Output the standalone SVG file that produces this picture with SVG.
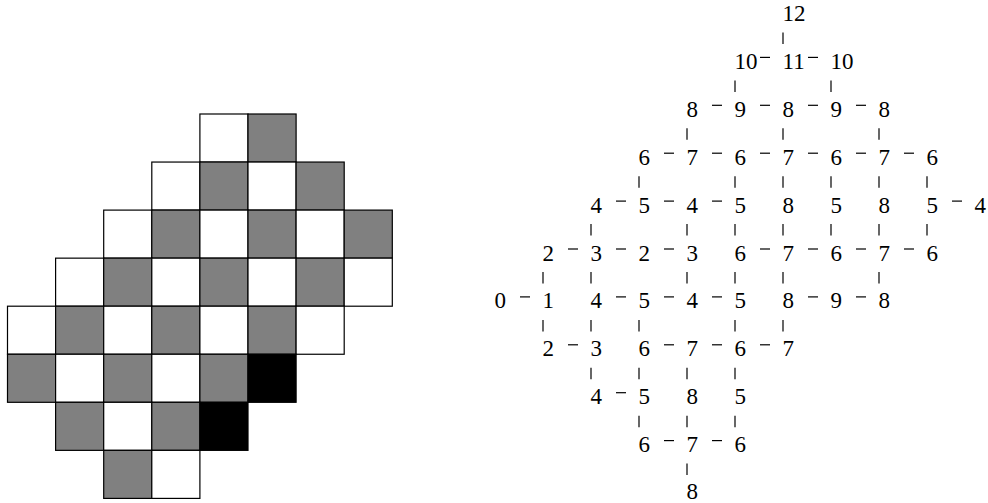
<svg xmlns="http://www.w3.org/2000/svg" width="988" height="503" viewBox="0 0 988 503">
<style>
.w{fill:#fff;stroke:#000;stroke-width:1.2}
.g{fill:#808080;stroke:#000;stroke-width:1.2}
.b{fill:#000;stroke:#000;stroke-width:1.2}
.c line{stroke:#000;stroke-width:1.2}
</style>
<g id="board">
<rect class="w" x="199.9" y="114" width="48.1" height="48.05"/>
<rect class="g" x="248" y="114" width="48.1" height="48.05"/>
<rect class="w" x="151.8" y="162.05" width="48.1" height="48.05"/>
<rect class="g" x="199.9" y="162.05" width="48.1" height="48.05"/>
<rect class="w" x="248" y="162.05" width="48.1" height="48.05"/>
<rect class="g" x="296.1" y="162.05" width="48.1" height="48.05"/>
<rect class="w" x="103.7" y="210.1" width="48.1" height="48.05"/>
<rect class="g" x="151.8" y="210.1" width="48.1" height="48.05"/>
<rect class="w" x="199.9" y="210.1" width="48.1" height="48.05"/>
<rect class="g" x="248" y="210.1" width="48.1" height="48.05"/>
<rect class="w" x="296.1" y="210.1" width="48.1" height="48.05"/>
<rect class="g" x="344.2" y="210.1" width="48.1" height="48.05"/>
<rect class="w" x="55.6" y="258.15" width="48.1" height="48.05"/>
<rect class="g" x="103.7" y="258.15" width="48.1" height="48.05"/>
<rect class="w" x="151.8" y="258.15" width="48.1" height="48.05"/>
<rect class="g" x="199.9" y="258.15" width="48.1" height="48.05"/>
<rect class="w" x="248" y="258.15" width="48.1" height="48.05"/>
<rect class="g" x="296.1" y="258.15" width="48.1" height="48.05"/>
<rect class="w" x="344.2" y="258.15" width="48.1" height="48.05"/>
<rect class="w" x="7.5" y="306.2" width="48.1" height="48.05"/>
<rect class="g" x="55.6" y="306.2" width="48.1" height="48.05"/>
<rect class="w" x="103.7" y="306.2" width="48.1" height="48.05"/>
<rect class="g" x="151.8" y="306.2" width="48.1" height="48.05"/>
<rect class="w" x="199.9" y="306.2" width="48.1" height="48.05"/>
<rect class="g" x="248" y="306.2" width="48.1" height="48.05"/>
<rect class="w" x="296.1" y="306.2" width="48.1" height="48.05"/>
<rect class="g" x="7.5" y="354.25" width="48.1" height="48.05"/>
<rect class="w" x="55.6" y="354.25" width="48.1" height="48.05"/>
<rect class="g" x="103.7" y="354.25" width="48.1" height="48.05"/>
<rect class="w" x="151.8" y="354.25" width="48.1" height="48.05"/>
<rect class="g" x="199.9" y="354.25" width="48.1" height="48.05"/>
<rect class="b" x="248" y="354.25" width="48.1" height="48.05"/>
<rect class="g" x="55.6" y="402.3" width="48.1" height="48.05"/>
<rect class="w" x="103.7" y="402.3" width="48.1" height="48.05"/>
<rect class="g" x="151.8" y="402.3" width="48.1" height="48.05"/>
<rect class="b" x="199.9" y="402.3" width="48.1" height="48.05"/>
<rect class="g" x="103.7" y="450.35" width="48.1" height="48.05"/>
<rect class="w" x="151.8" y="450.35" width="48.1" height="48.05"/>
</g>
<g id="connectors" class="c">
<line x1="760" y1="57.4" x2="770" y2="57.4"/><line x1="808" y1="57.4" x2="818" y2="57.4"/>
<line x1="712" y1="105.3" x2="722" y2="105.3"/><line x1="760" y1="105.3" x2="770" y2="105.3"/><line x1="808" y1="105.3" x2="818" y2="105.3"/><line x1="856" y1="105.3" x2="866" y2="105.3"/>
<line x1="664" y1="153.2" x2="674" y2="153.2"/><line x1="712" y1="153.2" x2="722" y2="153.2"/><line x1="760" y1="153.2" x2="770" y2="153.2"/><line x1="808" y1="153.2" x2="818" y2="153.2"/><line x1="856" y1="153.2" x2="866" y2="153.2"/><line x1="904" y1="153.2" x2="914" y2="153.2"/>
<line x1="616" y1="201.1" x2="626" y2="201.1"/><line x1="664" y1="201.1" x2="674" y2="201.1"/><line x1="712" y1="201.1" x2="722" y2="201.1"/><line x1="952" y1="201.1" x2="962" y2="201.1"/>
<line x1="568" y1="249" x2="578" y2="249"/><line x1="616" y1="249" x2="626" y2="249"/><line x1="664" y1="249" x2="674" y2="249"/><line x1="760" y1="249" x2="770" y2="249"/><line x1="808" y1="249" x2="818" y2="249"/><line x1="856" y1="249" x2="866" y2="249"/><line x1="904" y1="249" x2="914" y2="249"/>
<line x1="520" y1="296.9" x2="530" y2="296.9"/><line x1="616" y1="296.9" x2="626" y2="296.9"/><line x1="664" y1="296.9" x2="674" y2="296.9"/><line x1="712" y1="296.9" x2="722" y2="296.9"/><line x1="808" y1="296.9" x2="818" y2="296.9"/><line x1="856" y1="296.9" x2="866" y2="296.9"/>
<line x1="568" y1="344.8" x2="578" y2="344.8"/><line x1="664" y1="344.8" x2="674" y2="344.8"/><line x1="712" y1="344.8" x2="722" y2="344.8"/><line x1="760" y1="344.8" x2="770" y2="344.8"/>
<line x1="616" y1="392.7" x2="626" y2="392.7"/>
<line x1="664" y1="440.6" x2="674" y2="440.6"/><line x1="712" y1="440.6" x2="722" y2="440.6"/>
<line x1="783" y1="32.5" x2="783" y2="44"/>
<line x1="735" y1="80.4" x2="735" y2="91.9"/><line x1="831" y1="80.4" x2="831" y2="91.9"/>
<line x1="687" y1="128.3" x2="687" y2="139.8"/><line x1="783" y1="128.3" x2="783" y2="139.8"/><line x1="879" y1="128.3" x2="879" y2="139.8"/>
<line x1="639" y1="176.2" x2="639" y2="187.7"/><line x1="735" y1="176.2" x2="735" y2="187.7"/><line x1="783" y1="176.2" x2="783" y2="187.7"/><line x1="831" y1="176.2" x2="831" y2="187.7"/><line x1="879" y1="176.2" x2="879" y2="187.7"/><line x1="927" y1="176.2" x2="927" y2="187.7"/>
<line x1="591" y1="224.1" x2="591" y2="235.6"/><line x1="687" y1="224.1" x2="687" y2="235.6"/><line x1="735" y1="224.1" x2="735" y2="235.6"/><line x1="783" y1="224.1" x2="783" y2="235.6"/><line x1="831" y1="224.1" x2="831" y2="235.6"/><line x1="879" y1="224.1" x2="879" y2="235.6"/><line x1="927" y1="224.1" x2="927" y2="235.6"/>
<line x1="543" y1="272" x2="543" y2="283.5"/><line x1="591" y1="272" x2="591" y2="283.5"/><line x1="687" y1="272" x2="687" y2="283.5"/><line x1="735" y1="272" x2="735" y2="283.5"/><line x1="783" y1="272" x2="783" y2="283.5"/><line x1="879" y1="272" x2="879" y2="283.5"/>
<line x1="543" y1="319.9" x2="543" y2="331.4"/><line x1="591" y1="319.9" x2="591" y2="331.4"/><line x1="639" y1="319.9" x2="639" y2="331.4"/><line x1="735" y1="319.9" x2="735" y2="331.4"/><line x1="783" y1="319.9" x2="783" y2="331.4"/>
<line x1="591" y1="367.8" x2="591" y2="379.3"/><line x1="639" y1="367.8" x2="639" y2="379.3"/><line x1="687" y1="367.8" x2="687" y2="379.3"/><line x1="735" y1="367.8" x2="735" y2="379.3"/>
<line x1="639" y1="415.7" x2="639" y2="427.2"/><line x1="687" y1="415.7" x2="687" y2="427.2"/><line x1="735" y1="415.7" x2="735" y2="427.2"/>
<line x1="687" y1="463.6" x2="687" y2="475.1"/>
</g>
<g id="n0-6"><text font-family="'Liberation Serif', 'Times New Roman', serif" font-size="23" x="782.5" y="21">12</text></g>
<g id="n1-5"><text font-family="'Liberation Serif', 'Times New Roman', serif" font-size="23" x="734.5" y="68.9">10</text></g>
<g id="n1-6"><text font-family="'Liberation Serif', 'Times New Roman', serif" font-size="23" x="782.5" y="68.9">11</text></g>
<g id="n1-7"><text font-family="'Liberation Serif', 'Times New Roman', serif" font-size="23" x="830.5" y="68.9">10</text></g>
<g id="n2-4"><text font-family="'Liberation Serif', 'Times New Roman', serif" font-size="23" x="686.5" y="116.8">8</text></g>
<g id="n2-5"><text font-family="'Liberation Serif', 'Times New Roman', serif" font-size="23" x="734.5" y="116.8">9</text></g>
<g id="n2-6"><text font-family="'Liberation Serif', 'Times New Roman', serif" font-size="23" x="782.5" y="116.8">8</text></g>
<g id="n2-7"><text font-family="'Liberation Serif', 'Times New Roman', serif" font-size="23" x="830.5" y="116.8">9</text></g>
<g id="n2-8"><text font-family="'Liberation Serif', 'Times New Roman', serif" font-size="23" x="878.5" y="116.8">8</text></g>
<g id="n3-3"><text font-family="'Liberation Serif', 'Times New Roman', serif" font-size="23" x="638.5" y="164.7">6</text></g>
<g id="n3-4"><text font-family="'Liberation Serif', 'Times New Roman', serif" font-size="23" x="686.5" y="164.7">7</text></g>
<g id="n3-5"><text font-family="'Liberation Serif', 'Times New Roman', serif" font-size="23" x="734.5" y="164.7">6</text></g>
<g id="n3-6"><text font-family="'Liberation Serif', 'Times New Roman', serif" font-size="23" x="782.5" y="164.7">7</text></g>
<g id="n3-7"><text font-family="'Liberation Serif', 'Times New Roman', serif" font-size="23" x="830.5" y="164.7">6</text></g>
<g id="n3-8"><text font-family="'Liberation Serif', 'Times New Roman', serif" font-size="23" x="878.5" y="164.7">7</text></g>
<g id="n3-9"><text font-family="'Liberation Serif', 'Times New Roman', serif" font-size="23" x="926.5" y="164.7">6</text></g>
<g id="n4-2"><text font-family="'Liberation Serif', 'Times New Roman', serif" font-size="23" x="590.5" y="212.6">4</text></g>
<g id="n4-3"><text font-family="'Liberation Serif', 'Times New Roman', serif" font-size="23" x="638.5" y="212.6">5</text></g>
<g id="n4-4"><text font-family="'Liberation Serif', 'Times New Roman', serif" font-size="23" x="686.5" y="212.6">4</text></g>
<g id="n4-5"><text font-family="'Liberation Serif', 'Times New Roman', serif" font-size="23" x="734.5" y="212.6">5</text></g>
<g id="n4-6"><text font-family="'Liberation Serif', 'Times New Roman', serif" font-size="23" x="782.5" y="212.6">8</text></g>
<g id="n4-7"><text font-family="'Liberation Serif', 'Times New Roman', serif" font-size="23" x="830.5" y="212.6">5</text></g>
<g id="n4-8"><text font-family="'Liberation Serif', 'Times New Roman', serif" font-size="23" x="878.5" y="212.6">8</text></g>
<g id="n4-9"><text font-family="'Liberation Serif', 'Times New Roman', serif" font-size="23" x="926.5" y="212.6">5</text></g>
<g id="n4-10"><text font-family="'Liberation Serif', 'Times New Roman', serif" font-size="23" x="974.5" y="212.6">4</text></g>
<g id="n5-1"><text font-family="'Liberation Serif', 'Times New Roman', serif" font-size="23" x="542.5" y="260.5">2</text></g>
<g id="n5-2"><text font-family="'Liberation Serif', 'Times New Roman', serif" font-size="23" x="590.5" y="260.5">3</text></g>
<g id="n5-3"><text font-family="'Liberation Serif', 'Times New Roman', serif" font-size="23" x="638.5" y="260.5">2</text></g>
<g id="n5-4"><text font-family="'Liberation Serif', 'Times New Roman', serif" font-size="23" x="686.5" y="260.5">3</text></g>
<g id="n5-5"><text font-family="'Liberation Serif', 'Times New Roman', serif" font-size="23" x="734.5" y="260.5">6</text></g>
<g id="n5-6"><text font-family="'Liberation Serif', 'Times New Roman', serif" font-size="23" x="782.5" y="260.5">7</text></g>
<g id="n5-7"><text font-family="'Liberation Serif', 'Times New Roman', serif" font-size="23" x="830.5" y="260.5">6</text></g>
<g id="n5-8"><text font-family="'Liberation Serif', 'Times New Roman', serif" font-size="23" x="878.5" y="260.5">7</text></g>
<g id="n5-9"><text font-family="'Liberation Serif', 'Times New Roman', serif" font-size="23" x="926.5" y="260.5">6</text></g>
<g id="n6-0"><text font-family="'Liberation Serif', 'Times New Roman', serif" font-size="23" x="494.5" y="308.4">0</text></g>
<g id="n6-1"><text font-family="'Liberation Serif', 'Times New Roman', serif" font-size="23" x="542.5" y="308.4">1</text></g>
<g id="n6-2"><text font-family="'Liberation Serif', 'Times New Roman', serif" font-size="23" x="590.5" y="308.4">4</text></g>
<g id="n6-3"><text font-family="'Liberation Serif', 'Times New Roman', serif" font-size="23" x="638.5" y="308.4">5</text></g>
<g id="n6-4"><text font-family="'Liberation Serif', 'Times New Roman', serif" font-size="23" x="686.5" y="308.4">4</text></g>
<g id="n6-5"><text font-family="'Liberation Serif', 'Times New Roman', serif" font-size="23" x="734.5" y="308.4">5</text></g>
<g id="n6-6"><text font-family="'Liberation Serif', 'Times New Roman', serif" font-size="23" x="782.5" y="308.4">8</text></g>
<g id="n6-7"><text font-family="'Liberation Serif', 'Times New Roman', serif" font-size="23" x="830.5" y="308.4">9</text></g>
<g id="n6-8"><text font-family="'Liberation Serif', 'Times New Roman', serif" font-size="23" x="878.5" y="308.4">8</text></g>
<g id="n7-1"><text font-family="'Liberation Serif', 'Times New Roman', serif" font-size="23" x="542.5" y="356.3">2</text></g>
<g id="n7-2"><text font-family="'Liberation Serif', 'Times New Roman', serif" font-size="23" x="590.5" y="356.3">3</text></g>
<g id="n7-3"><text font-family="'Liberation Serif', 'Times New Roman', serif" font-size="23" x="638.5" y="356.3">6</text></g>
<g id="n7-4"><text font-family="'Liberation Serif', 'Times New Roman', serif" font-size="23" x="686.5" y="356.3">7</text></g>
<g id="n7-5"><text font-family="'Liberation Serif', 'Times New Roman', serif" font-size="23" x="734.5" y="356.3">6</text></g>
<g id="n7-6"><text font-family="'Liberation Serif', 'Times New Roman', serif" font-size="23" x="782.5" y="356.3">7</text></g>
<g id="n8-2"><text font-family="'Liberation Serif', 'Times New Roman', serif" font-size="23" x="590.5" y="404.2">4</text></g>
<g id="n8-3"><text font-family="'Liberation Serif', 'Times New Roman', serif" font-size="23" x="638.5" y="404.2">5</text></g>
<g id="n8-4"><text font-family="'Liberation Serif', 'Times New Roman', serif" font-size="23" x="686.5" y="404.2">8</text></g>
<g id="n8-5"><text font-family="'Liberation Serif', 'Times New Roman', serif" font-size="23" x="734.5" y="404.2">5</text></g>
<g id="n9-3"><text font-family="'Liberation Serif', 'Times New Roman', serif" font-size="23" x="638.5" y="452.1">6</text></g>
<g id="n9-4"><text font-family="'Liberation Serif', 'Times New Roman', serif" font-size="23" x="686.5" y="452.1">7</text></g>
<g id="n9-5"><text font-family="'Liberation Serif', 'Times New Roman', serif" font-size="23" x="734.5" y="452.1">6</text></g>
<g id="n10-4"><text font-family="'Liberation Serif', 'Times New Roman', serif" font-size="23" x="686.5" y="498.5">8</text></g>
</svg>
